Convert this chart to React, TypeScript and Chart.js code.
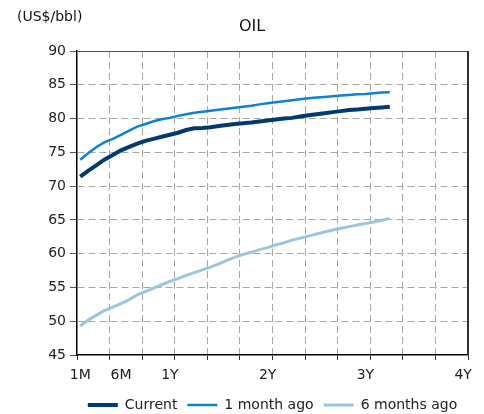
import React, { useEffect, useRef } from 'react';
import { Chart, registerables } from 'chart.js';

Chart.register(...registerables);
Chart.defaults.font.family = '"DejaVu Sans", Verdana, sans-serif';

const months = [
  1, 2, 3, 4, 5, 6, 7, 8, 9, 10, 11, 12, 13, 14, 15, 16, 17, 18, 19, 20,
  21, 22, 23, 24, 25, 26, 27, 28, 29, 30, 31, 32, 33, 34, 35, 36, 37, 38, 39,
];

const current = [
  71.4, 72.3, 73.1, 73.95, 74.6, 75.3, 75.8, 76.3, 76.7, 77.0,
  77.3, 77.6, 77.9, 78.3, 78.55, 78.6, 78.7, 78.9, 79.05, 79.2,
  79.3, 79.4, 79.55, 79.7, 79.85, 80.0, 80.1, 80.3, 80.5, 80.65,
  80.8, 80.95, 81.1, 81.25, 81.35, 81.45, 81.55, 81.65, 81.75,
];

const oneMonthAgo = [
  73.9, 74.9, 75.8, 76.5, 77.0, 77.6, 78.2, 78.8, 79.2, 79.6,
  79.9, 80.1, 80.4, 80.65, 80.85, 81.0, 81.15, 81.3, 81.45, 81.6,
  81.75, 81.9, 82.1, 82.25, 82.4, 82.55, 82.7, 82.85, 83.0, 83.1,
  83.2, 83.3, 83.4, 83.5, 83.6, 83.65, 83.75, 83.85, 83.9,
];

const sixMonthsAgo = [
  49.3, 50.2, 50.9, 51.6, 52.1, 52.6, 53.2, 53.9, 54.4, 54.9,
  55.4, 55.9, 56.3, 56.8, 57.2, 57.6, 58.0, 58.5, 59.0, 59.5,
  59.9, 60.2, 60.6, 60.9, 61.3, 61.6, 62.0, 62.3, 62.6, 62.9,
  63.2, 63.5, 63.75, 64.0, 64.25, 64.45, 64.7, 64.95, 65.2,
];

const seriesNames = ['Current', '1 month ago', '6 months ago'];
const xTickMonths = [1, 6, 12, 24, 36, 48];
const xTickLabels = ['1M', '6M', '1Y', '2Y', '3Y', '4Y'];
const X_MIN = 0.6;
const X_MAX = 48.6;
const X_GRID_STEP = 4;
const Y_MIN = 45;
const Y_MAX = 90;
const Y_STEP = 5;

const TRANSPARENT = 'rgba(0,0,0,0)';
const GRID_COLOR = '#a8a8a8';

const isLabelTick = (v: number) => xTickMonths.indexOf(v) >= 0;
const isEdgeX = (v: number) => Math.abs(v - X_MIN) < 1e-6 || Math.abs(v - X_MAX) < 1e-6;

const decorPlugin = {
  id: 'decor',
  afterDraw(chart: any) {
    const { ctx, chartArea: a } = chart;
    ctx.save();
    ctx.setLineDash([]);
    ctx.strokeStyle = '#555';
    ctx.lineWidth = 1;
    ctx.beginPath();
    ctx.moveTo(a.left, a.top + 0.5);
    ctx.lineTo(a.right, a.top + 0.5);
    ctx.stroke();
    ctx.strokeStyle = '#333';
    ctx.lineWidth = 2;
    ctx.beginPath();
    ctx.moveTo(a.right, a.top);
    ctx.lineTo(a.right, a.bottom);
    ctx.stroke();

    ctx.fillStyle = '#111';
    ctx.textBaseline = 'middle';
    ctx.textAlign = 'center';
    ctx.font = '16px "DejaVu Sans", Verdana, sans-serif';
    ctx.fillText('OIL', 252, 27);
    ctx.textAlign = 'left';
    ctx.font = '14px "DejaVu Sans", Verdana, sans-serif';
    ctx.fillText('(US$/bbl)', 17, 17);
    ctx.restore();
  },
};

export default function App() {
  const canvasRef = useRef<HTMLCanvasElement | null>(null);

  useEffect(() => {
    if (!canvasRef.current) return;
    const toPoints = (vals: number[]) => vals.map((y, i) => ({ x: months[i], y }));
    const chart = new Chart(canvasRef.current, {
      type: 'line',
      data: {
        datasets: [
          {
            label: seriesNames[0],
            data: toPoints(current),
            borderColor: '#003a6e',
            backgroundColor: '#003a6e',
            borderWidth: 4,
            pointRadius: 0,
            tension: 0,
          },
          {
            label: seriesNames[1],
            data: toPoints(oneMonthAgo),
            borderColor: '#0a84d2',
            backgroundColor: '#0a84d2',
            borderWidth: 2.5,
            pointRadius: 0,
            tension: 0,
          },
          {
            label: seriesNames[2],
            data: toPoints(sixMonthsAgo),
            borderColor: '#9cc6e0',
            backgroundColor: '#9cc6e0',
            borderWidth: 3,
            pointRadius: 0,
            tension: 0,
          },
        ],
      },
      options: {
        animation: false,
        responsive: false,
        layout: { padding: { left: 0, right: 16, top: 51, bottom: 0 } },
        plugins: {
          title: { display: false },
          tooltip: { enabled: false },
          legend: {
            position: 'bottom',
            fullSize: false,
            maxHeight: 26,
            labels: {
              usePointStyle: true,
              pointStyle: 'line',
              pointStyleWidth: 30,
              padding: 10,
              color: '#222',
              font: { size: 14 },
            },
          },
        },
        scales: {
          x: {
            type: 'linear',
            min: X_MIN,
            max: X_MAX,
            afterBuildTicks: (scale: any) => {
              const vals: number[] = [];
              for (let k = 0; X_MIN + k * X_GRID_STEP <= X_MAX + 1e-6; k++) {
                vals.push(Math.round((X_MIN + k * X_GRID_STEP) * 100) / 100);
              }
              xTickMonths.forEach((m) => vals.push(m));
              vals.sort((p, q) => p - q);
              scale.ticks = vals.map((value) => ({ value }));
            },
            afterFit: (scale: any) => {
              scale.height = 33;
            },
            ticks: {
              autoSkip: false,
              maxRotation: 0,
              minRotation: 0,
              padding: 7,
              color: '#222',
              font: { size: 14 },
              callback: (v: any) => {
                const i = xTickMonths.indexOf(Number(v));
                return i >= 0 ? xTickLabels[i] : '';
              },
            },
            grid: {
              color: (c: any) => {
                const v = c.tick ? c.tick.value : NaN;
                return isLabelTick(v) || isEdgeX(v) ? TRANSPARENT : GRID_COLOR;
              },
              tickColor: (c: any) => {
                const v = c.tick ? c.tick.value : NaN;
                return isLabelTick(v) ? TRANSPARENT : '#333';
              },
              tickLength: 5,
              lineWidth: 1,
            },
            border: { display: true, color: '#000', width: 1.5, dash: [7, 4] },
          },
          y: {
            min: Y_MIN,
            max: Y_MAX,
            afterFit: (scale: any) => {
              scale.width = 77;
            },
            ticks: {
              stepSize: Y_STEP,
              padding: 4,
              color: '#222',
              font: { size: 14 },
            },
            grid: {
              color: (c: any) => {
                const v = c.tick ? c.tick.value : NaN;
                return v === Y_MIN || v === Y_MAX ? TRANSPARENT : GRID_COLOR;
              },
              tickColor: '#555',
              tickLength: 7,
              lineWidth: 1,
            },
            border: { display: true, color: '#000', width: 1.5, dash: [7, 4] },
          },
        },
      },
      plugins: [decorPlugin],
    } as any);
    return () => chart.destroy();
  }, []);

  return (
    <div style={{ position: 'fixed', left: 0, top: 0, width: 484, height: 414, background: '#fff' }}>
      <canvas ref={canvasRef} width={484} height={414} style={{ width: 484, height: 414, display: 'block' }} />
    </div>
  );
}
